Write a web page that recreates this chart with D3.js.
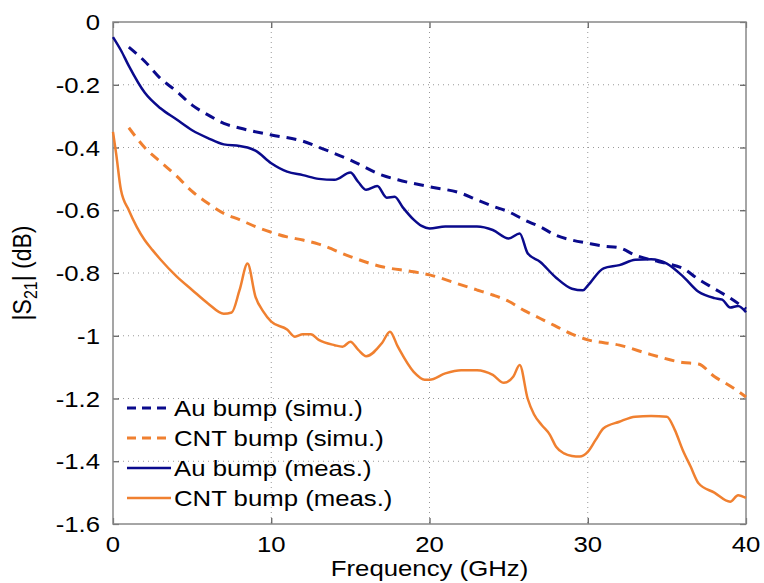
<!DOCTYPE html>
<html>
<head>
<style>
  body { margin: 0; background: #fff; }
  text { font-family: "Liberation Sans", Arial, sans-serif; fill: #000; }
</style>
</head>
<body>
<script src="https://d3js.org/d3.v7.min.js"></script>
<script>
var width = 764, height = 583;
var margin = {left: 113, right: 18, top: 22, bottom: 59};
var sx = 1.12; // the original picture is stretched sideways
var fs = "23px";

// data
var xTicks = [0, 10, 20, 30, 40];
var yTicks = [0, -0.2, -0.4, -0.6, -0.8, -1, -1.2, -1.4, -1.6];

var auSimF = [1,2,3,4,5,6,7,8,10,12,13.3,15,17,18,20,22,23,24,25,26,27,28,29,30,31,32,33,34,35,36,37,38,39,40];
var auSimV = [-0.08,-0.125,-0.18,-0.22,-0.265,-0.296,-0.323,-0.338,-0.36,-0.38,-0.405,-0.44,-0.488,-0.503,-0.525,-0.546,-0.567,-0.587,-0.605,-0.631,-0.653,-0.68,-0.695,-0.705,-0.714,-0.72,-0.743,-0.758,-0.77,-0.785,-0.82,-0.85,-0.88,-0.915];

var cntSimF = [1,2,3,4,5,6,7,8,9,10,11,12,13,15,17,19,20,22,23,24,25,26,27,28,29,30,32,34,36,37,38,39,40];
var cntSimV = [-0.337,-0.40,-0.446,-0.49,-0.54,-0.578,-0.61,-0.63,-0.652,-0.67,-0.685,-0.695,-0.708,-0.748,-0.78,-0.796,-0.806,-0.838,-0.854,-0.87,-0.89,-0.92,-0.945,-0.97,-0.995,-1.013,-1.03,-1.06,-1.085,-1.09,-1.13,-1.16,-1.195];

var auMeasF = [0,0.5,1,2,3,4,5,6,7,8,8.5,9,10,11,12,13,14,15,15.5,16,16.7,17.3,17.8,18.3,19,19.5,20,21,22,23,24,25,25.7,26.2,27,28,29,29.7,30,31,32,33,34,35,36,37,38,38.5,39,39.5,40];
var auMeasV = [-0.048,-0.09,-0.14,-0.225,-0.275,-0.31,-0.345,-0.37,-0.39,-0.395,-0.40,-0.41,-0.45,-0.477,-0.488,-0.50,-0.503,-0.48,-0.51,-0.535,-0.523,-0.56,-0.557,-0.59,-0.63,-0.65,-0.658,-0.652,-0.652,-0.652,-0.663,-0.69,-0.674,-0.737,-0.765,-0.815,-0.85,-0.855,-0.84,-0.785,-0.775,-0.758,-0.756,-0.77,-0.81,-0.86,-0.88,-0.885,-0.91,-0.905,-0.925];

var cntMeasF = [0,0.2,0.5,1,1.5,2,2.5,3,4,5,6,7,7.5,8,8.5,9,9.5,10,11,11.5,12,12.5,13,14,14.5,15,15.5,16,17,17.5,18,19,19.7,20,21,22,23,24,24.7,25.3,25.7,26.2,26.6,27.1,27.6,28,28.5,29,29.5,30,30.5,31,32,33,34,35,35.5,36,36.5,37,38,39,39.5,40];
var cntMeasV = [-0.35,-0.42,-0.535,-0.60,-0.653,-0.695,-0.727,-0.757,-0.81,-0.854,-0.897,-0.93,-0.926,-0.854,-0.77,-0.875,-0.923,-0.955,-0.98,-1.003,-0.995,-0.995,-1.013,-1.03,-1.035,-1.019,-1.045,-1.065,-1.023,-0.987,-1.035,-1.115,-1.14,-1.14,-1.12,-1.11,-1.11,-1.125,-1.15,-1.13,-1.093,-1.2,-1.25,-1.285,-1.315,-1.354,-1.375,-1.383,-1.385,-1.37,-1.332,-1.295,-1.274,-1.258,-1.256,-1.258,-1.30,-1.364,-1.417,-1.47,-1.50,-1.529,-1.508,-1.517];

var navy = "#0a0a8c", orange = "#f08030";

var series = [
  {name: "Au bump (simu.)",  f: auSimF,   v: auSimV,   color: navy,   dash: "10,7", w: 3},
  {name: "CNT bump (simu.)", f: cntSimF,  v: cntSimV,  color: orange, dash: "10,7", w: 3},
  {name: "Au bump (meas.)",  f: auMeasF,  v: auMeasV,  color: navy,   dash: null,   w: 2.5},
  {name: "CNT bump (meas.)", f: cntMeasF, v: cntMeasV, color: orange, dash: null,   w: 2.5}
];

var svg = d3.select("body").append("svg")
    .attr("width", width)
    .attr("height", height);

var x = d3.scaleLinear().domain([0, 40]).range([margin.left, width - margin.right]);
var y = d3.scaleLinear().domain([-1.6, 0]).range([height - margin.bottom, margin.top]);

var x0 = x.range()[0], x1 = x.range()[1], y0 = y.range()[0], y1 = y.range()[1];

// dotted grid
svg.append("g").selectAll("line")
    .data(xTicks.slice(1, -1))
    .enter().append("line")
    .attr("x1", d => x(d)).attr("x2", d => x(d))
    .attr("y1", y1).attr("y2", y0)
    .attr("stroke", "#999").attr("stroke-width", 1).attr("stroke-dasharray", "1,4");
svg.append("g").selectAll("line")
    .data(yTicks.slice(1, -1))
    .enter().append("line")
    .attr("x1", x0).attr("x2", x1)
    .attr("y1", d => y(d)).attr("y2", d => y(d))
    .attr("stroke", "#999").attr("stroke-width", 1).attr("stroke-dasharray", "1,4");

// axes with inward ticks on all sides
function styleAxis(g) {
  g.select(".domain").remove();
  g.selectAll(".tick line").attr("stroke", "#555").attr("stroke-width", 1.2);
}
svg.append("g").attr("transform", "translate(0," + y0 + ")")
    .call(d3.axisBottom(x).tickValues(xTicks).tickSize(-6).tickFormat(""))
    .call(styleAxis);
svg.append("g").attr("transform", "translate(0," + y1 + ")")
    .call(d3.axisTop(x).tickValues(xTicks).tickSize(-6).tickFormat(""))
    .call(styleAxis);
svg.append("g").attr("transform", "translate(" + x0 + ",0)")
    .call(d3.axisLeft(y).tickValues(yTicks).tickSize(-6).tickFormat(""))
    .call(styleAxis);
svg.append("g").attr("transform", "translate(" + x1 + ",0)")
    .call(d3.axisRight(y).tickValues(yTicks).tickSize(-6).tickFormat(""))
    .call(styleAxis);

// frame
svg.append("rect")
    .attr("x", x0).attr("y", y1)
    .attr("width", x1 - x0).attr("height", y0 - y1)
    .attr("fill", "none").attr("stroke", "#888").attr("stroke-width", 1.5);

// tick labels
svg.append("g").selectAll("text")
    .data(xTicks)
    .enter().append("text")
    .attr("transform", d => "translate(" + x(d) + "," + (y0 + 28) + ") scale(" + sx + ",1)")
    .attr("text-anchor", "middle")
    .style("font-size", fs)
    .text(d => d);
svg.append("g").selectAll("text")
    .data(yTicks)
    .enter().append("text")
    .attr("transform", d => "translate(" + (x0 - 13) + "," + (y(d) + 8) + ") scale(" + sx + ",1)")
    .attr("text-anchor", "end")
    .style("font-size", fs)
    .text(d => d === 0 ? "0" : String(d));

// axis titles
svg.append("text")
    .attr("transform", "translate(" + ((x0 + x1) / 2) + "," + (y0 + 52) + ") scale(" + sx + ",1)")
    .attr("text-anchor", "middle")
    .style("font-size", fs)
    .text("Frequency (GHz)");

var yl = svg.append("text")
    .attr("transform", "translate(31," + ((y0 + y1) / 2) + ") scale(" + sx + ",1) rotate(-90)")
    .attr("text-anchor", "middle")
    .style("font-size", fs);
yl.append("tspan").text("|S");
yl.append("tspan").attr("dy", 5).style("font-size", "16px").text("21");
yl.append("tspan").attr("dy", -5).text("| (dB)");

// curves
var line = d3.line()
    .x(d => x(d[0]))
    .y(d => y(d[1]))
    .curve(d3.curveMonotoneX);

svg.append("g").selectAll("path")
    .data(series)
    .enter().append("path")
    .attr("d", s => line(s.f.map((f, i) => [f, s.v[i]])))
    .attr("fill", "none")
    .attr("stroke", s => s.color)
    .attr("stroke-width", s => s.w)
    .attr("stroke-dasharray", s => s.dash)
    .attr("stroke-linejoin", "round");

// legend
var legend = svg.append("g").selectAll("g")
    .data(series)
    .enter().append("g")
    .attr("transform", (d, i) => "translate(127," + (408 + i * 30) + ")");
legend.append("line")
    .attr("x1", 0).attr("x2", 44)
    .attr("stroke", d => d.color)
    .attr("stroke-width", d => d.w)
    .attr("stroke-dasharray", d => d.dash ? "9,6" : null);
legend.append("text")
    .attr("transform", "translate(47,8) scale(" + sx + ",1)")
    .style("font-size", fs)
    .text(d => d.name);
</script>
</body>
</html>
